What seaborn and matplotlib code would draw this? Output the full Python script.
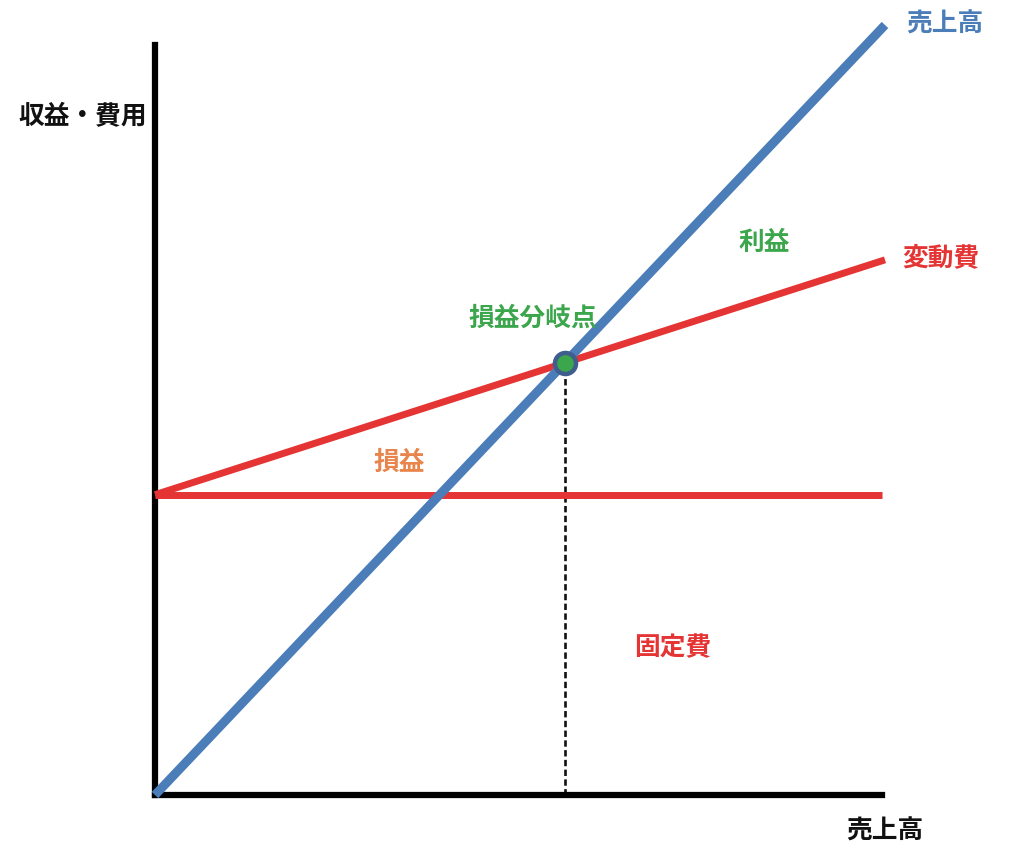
import matplotlib
matplotlib.use("Agg")
import matplotlib.pyplot as plt
import numpy as np
import pandas as pd
import seaborn as sns

# Break-even chart: sales revenue, fixed cost and total (variable) cost
sales = [0, 100]
fixed_cost = 39.0
variable_rate = 0.305
revenue = [0, 100]
total_cost = [fixed_cost + variable_rate * s for s in sales]
fixed_line = [fixed_cost, fixed_cost]

break_even_x = fixed_cost / (1 - variable_rate)
break_even_y = break_even_x

BLUE = "#4B7DB8"
RED = "#E53434"
GREEN = "#3BA64C"
ORANGE = "#E8854C"
DARK = "#111111"

sns.set_theme(style="white")
plt.rcParams["font.family"] = ["Noto Sans CJK JP", "DejaVu Sans"]

W, H = 1024, 859
fig = plt.figure(figsize=(W / 100, H / 100), dpi=100)
fig.patch.set_facecolor("white")

# axes: origin at (155, 795) px, 7.3 px per sales unit, 7.7 px per value unit
ax_left, ax_bottom = 155, 795
ax_w, ax_h = 730, 101 * 7.7
ax = fig.add_axes([ax_left / W, (H - ax_bottom) / H, ax_w / W, ax_h / H])
ax.set_xlim(0, 100)
ax.set_ylim(0, 101)
ax.set_facecolor("white")

df_rev = pd.DataFrame({"売上高": sales, "金額": revenue})
df_var = pd.DataFrame({"売上高": sales, "金額": total_cost})
df_fix = pd.DataFrame({"売上高": [0, 99.6], "金額": fixed_line})

sns.lineplot(data=df_fix, x="売上高", y="金額", ax=ax, color=RED, lw=5.0,
             solid_capstyle="butt", zorder=3)
sns.lineplot(data=df_var, x="売上高", y="金額", ax=ax, color=RED, lw=5.0,
             solid_capstyle="butt", zorder=3)
sns.lineplot(data=df_rev, x="売上高", y="金額", ax=ax, color=BLUE, lw=6.5,
             solid_capstyle="butt", zorder=4)

# dashed drop line from the break-even point
ax.plot([break_even_x, break_even_x], [0, break_even_y], color=DARK,
        lw=1.9, ls=(0, (2.4, 1.3)), zorder=2)
ax.scatter([break_even_x], [break_even_y], s=230, color=GREEN,
           edgecolor="#3F5E8E", linewidth=3.2, zorder=6)

for sp in ["top", "right"]:
    ax.spines[sp].set_visible(False)
for sp in ["left", "bottom"]:
    ax.spines[sp].set_color("black")
    ax.spines[sp].set_linewidth(4.5)
    ax.spines[sp].set_capstyle("projecting")
ax.spines["left"].set_bounds(0, (795 - 45) / 7.7)
ax.spines["bottom"].set_bounds(0, 99.6)
ax.set_xticks([])
ax.set_yticks([])
ax.set_xlabel("")
ax.set_ylabel("")
for line in ax.get_lines():
    line.set_clip_on(False)

fs = 18.5


def label(px, py, text, color):
    fig.text(px / W, 1 - py / H, text, color=color, fontsize=fs,
             fontweight="bold", ha="center", va="center")


label(83, 117, "収益・費用", DARK)
label(945, 24, "売上高", BLUE)
label(941, 258, "変動費", RED)
label(885, 831, "売上高", DARK)
label(764, 242, "利益", GREEN)
label(533, 318, "損益分岐点", GREEN)
label(399, 462, "損益", ORANGE)
label(673, 648, "固定費", RED)

fig.savefig("out.png", dpi=100, facecolor="white")
